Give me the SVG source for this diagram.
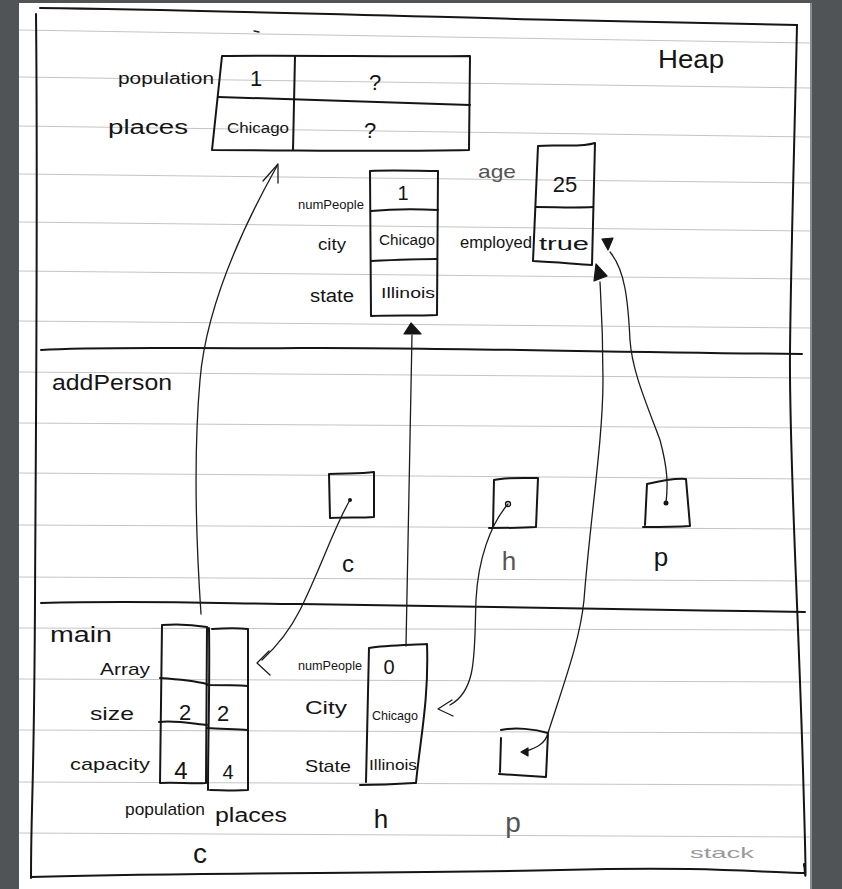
<svg xmlns="http://www.w3.org/2000/svg" width="842" height="889" viewBox="0 0 842 889">
  <defs>
    <style>
      .ink { fill: none; stroke: #151515; stroke-width: 2; stroke-linecap: round; stroke-linejoin: round; }
      .thin { fill: none; stroke: #1c1c1c; stroke-width: 1.3; stroke-linecap: round; stroke-linejoin: round; }
      .rule { stroke: #c4c4c4; stroke-width: 1; }
      .head { fill: #151515; stroke: #151515; stroke-width: 1.2; stroke-linejoin: round; }
      text { font-family: "Liberation Sans", "DejaVu Sans", sans-serif; fill: #151515; }
      .mid { text-anchor: middle; }
      .soft { fill: #555555; }
      .faint { fill: #9a9a9a; }
    </style>
  </defs>

  <!-- desk behind the sheet -->
  <rect x="0" y="0" width="842" height="889" fill="#505457"/>
  <!-- notebook sheet -->
  <rect x="19" y="3" width="793" height="886" fill="#ffffff"/>
  <rect x="810" y="3" width="2" height="886" fill="#8a8d90"/>

  <!-- ruled lines of the sheet -->
  <g id="ruling">
    <line class="rule" x1="19" y1="30" x2="810" y2="43"/>
    <line class="rule" x1="19" y1="77" x2="810" y2="88"/>
    <line class="rule" x1="19" y1="126" x2="810" y2="137"/>
    <line class="rule" x1="19" y1="174" x2="810" y2="183"/>
    <line class="rule" x1="19" y1="222" x2="810" y2="231"/>
    <line class="rule" x1="19" y1="271" x2="810" y2="279"/>
    <line class="rule" x1="19" y1="321" x2="810" y2="328"/>
    <line class="rule" x1="19" y1="372" x2="810" y2="378"/>
    <line class="rule" x1="19" y1="423" x2="810" y2="428"/>
    <line class="rule" x1="19" y1="473" x2="810" y2="479"/>
    <line class="rule" x1="19" y1="525" x2="810" y2="529"/>
    <line class="rule" x1="19" y1="577" x2="810" y2="581"/>
    <line class="rule" x1="19" y1="628" x2="810" y2="630"/>
    <line class="rule" x1="19" y1="679" x2="810" y2="682"/>
    <line class="rule" x1="19" y1="730" x2="810" y2="733"/>
    <line class="rule" x1="19" y1="782" x2="810" y2="785"/>
    <line class="rule" x1="19" y1="833" x2="810" y2="837"/>
  </g>

  <!-- outer frame and the heap / addPerson / main separators -->
  <g id="frame">
    <path class="ink" d="M40 8 C 200 10, 400 16, 560 20 S 760 24, 797 25"/>
    <path class="ink" d="M36 14 C 38 200, 36 400, 35 600 S 31 800, 31 878"/>
    <path class="ink" d="M797 25 C 795 120, 791 250, 790 352 S 798 600, 803 770 S 804 850, 804 866"/>
    <path class="ink" d="M31 877 C 200 872, 400 874, 560 870 S 760 873, 805 873"/>
    <path class="ink" d="M41 350 C 100 346, 200 349, 300 348 S 600 352, 802 354"/>
    <path class="ink" d="M41 603 C 150 600, 240 604, 300 604 S 600 609, 805 612"/>
    <path class="thin" d="M254 31 L 259 32"/>
    <text x="658" y="68" font-size="26" textLength="66" lengthAdjust="spacingAndGlyphs">Heap</text>
    <text x="52" y="390" font-size="22" textLength="120" lengthAdjust="spacingAndGlyphs">addPerson</text>
    <text x="50" y="642" font-size="22" textLength="62" lengthAdjust="spacingAndGlyphs">main</text>
    <text x="690" y="858" font-size="15" class="faint" textLength="64" lengthAdjust="spacingAndGlyphs">stack</text>
  </g>

  <!-- heap: population / places arrays -->
  <g id="heap-arrays">
    <path class="ink" d="M222 56 C 300 55, 400 57, 470 56 L 469 150 C 380 152, 300 150, 212 150 Z"/>
    <path class="ink" d="M218 97 C 300 99, 400 103, 470 105"/>
    <path class="ink" d="M295 56 L 293 150"/>
    <text x="118" y="84" font-size="16" textLength="96" lengthAdjust="spacingAndGlyphs">population</text>
    <text x="108" y="134" font-size="20" textLength="80" lengthAdjust="spacingAndGlyphs">places</text>
    <text x="256" y="86" font-size="22" class="mid">1</text>
    <text x="375" y="90" font-size="22" class="mid">?</text>
    <text x="258" y="133" font-size="14" class="mid" textLength="62" lengthAdjust="spacingAndGlyphs">Chicago</text>
    <text x="370" y="138" font-size="22" class="mid">?</text>
  </g>

  <!-- heap: Location object -->
  <g id="heap-location">
    <path class="ink" d="M370 171 C 390 170, 420 171, 438 171 L 437 315 C 415 316, 392 315, 371 316 Z"/>
    <path class="ink" d="M371 211 C 392 209, 418 209, 438 210"/>
    <path class="ink" d="M371 261 C 392 260, 418 259, 437 259"/>
    <text x="298" y="209" font-size="13" textLength="66" lengthAdjust="spacingAndGlyphs">numPeople</text>
    <text x="318" y="250" font-size="17" textLength="28" lengthAdjust="spacingAndGlyphs">city</text>
    <text x="310" y="302" font-size="18" textLength="44" lengthAdjust="spacingAndGlyphs">state</text>
    <text x="403" y="200" font-size="20" class="mid">1</text>
    <text x="407" y="245" font-size="14" class="mid" textLength="56" lengthAdjust="spacingAndGlyphs">Chicago</text>
    <text x="408" y="298" font-size="15" class="mid" textLength="54" lengthAdjust="spacingAndGlyphs">Illinois</text>
  </g>

  <!-- heap: Person object -->
  <g id="heap-person">
    <path class="ink" d="M538 146 C 555 144, 580 148, 595 143 L 592 265 C 575 264, 555 262, 533 261 Z"/>
    <path class="ink" d="M536 207 C 555 207, 575 208, 593 207"/>
    <text x="478" y="178" font-size="19" class="soft" textLength="38" lengthAdjust="spacingAndGlyphs">age</text>
    <text x="460" y="248" font-size="17" textLength="72" lengthAdjust="spacingAndGlyphs">employed</text>
    <text x="565" y="192" font-size="22" class="mid">25</text>
    <text x="564" y="250" font-size="18" class="mid" textLength="50" lengthAdjust="spacingAndGlyphs">true</text>
  </g>

  <!-- addPerson frame: local references -->
  <g id="addPerson-c">
    <path class="ink" d="M329 474 C 345 473, 360 474, 374 472 L 374 517 C 360 518, 345 517, 330 518 Z"/>
    <circle cx="350" cy="500" r="2" fill="#151515"/>
    <text x="348" y="572" font-size="24" class="mid">c</text>
  </g>
  <g id="addPerson-h">
    <path class="ink" d="M494 480 C 505 477, 525 478, 538 478 L 536 527 C 522 528, 505 528, 489 528 M494 480 L 493 527"/>
    <circle cx="508" cy="504" r="2.5" fill="none" stroke="#151515" stroke-width="1.3"/>
    <text x="509" y="570" font-size="26" class="mid soft">h</text>
  </g>
  <g id="addPerson-p">
    <path class="ink" d="M647 484 C 660 481, 675 478, 686 479 L 690 526 C 675 527, 660 527, 643 527 M647 484 L 645 525"/>
    <circle cx="666" cy="503" r="2.5" fill="#151515"/>
    <text x="661" y="566" font-size="26" class="mid">p</text>
  </g>

  <!-- main frame: c (population / places), h and p -->
  <g id="main-c">
    <path class="ink" d="M162 625 C 175 624, 195 625, 207 627 L 206 783 C 192 784, 175 782, 160 783 Z"/>
    <path class="ink" d="M212 629 C 225 628, 240 628, 248 629 L 248 790 C 235 791, 220 790, 210 790"/>
    <path class="ink" d="M160 678 C 175 679, 195 681, 207 684 M207 685 C 220 685, 235 685, 248 686"/>
    <path class="ink" d="M159 722 C 175 720, 195 724, 207 725 M207 728 C 220 729, 235 729, 248 730"/>
    <path class="ink" d="M209 628 C 210 680, 208 740, 208 790"/>
    <text x="100" y="675" font-size="17" textLength="50" lengthAdjust="spacingAndGlyphs">Array</text>
    <text x="90" y="720" font-size="19" textLength="44" lengthAdjust="spacingAndGlyphs">size</text>
    <text x="70" y="770" font-size="17" textLength="80" lengthAdjust="spacingAndGlyphs">capacity</text>
    <text x="185" y="720" font-size="22" class="mid">2</text>
    <text x="223" y="721" font-size="22" class="mid">2</text>
    <text x="181" y="779" font-size="24" class="mid">4</text>
    <text x="228" y="779" font-size="20" class="mid">4</text>
    <text x="125" y="815" font-size="17" textLength="80" lengthAdjust="spacingAndGlyphs">population</text>
    <text x="215" y="822" font-size="20" textLength="72" lengthAdjust="spacingAndGlyphs">places</text>
    <text x="200" y="863" font-size="28" class="mid">c</text>
  </g>
  <g id="main-h">
    <path class="ink" d="M369 648 C 385 645, 410 645, 427 644 C 429 700, 420 740, 416 783 C 400 784, 385 785, 360 785 M369 648 L 366 782"/>
    <text x="298" y="670" font-size="13" textLength="64" lengthAdjust="spacingAndGlyphs">numPeople</text>
    <text x="305" y="714" font-size="19" textLength="42" lengthAdjust="spacingAndGlyphs">City</text>
    <text x="305" y="772" font-size="17" textLength="46" lengthAdjust="spacingAndGlyphs">State</text>
    <text x="389" y="674" font-size="20" class="mid">0</text>
    <text x="395" y="720" font-size="13" class="mid" textLength="46" lengthAdjust="spacingAndGlyphs">Chicago</text>
    <text x="393" y="770" font-size="14" class="mid" textLength="48" lengthAdjust="spacingAndGlyphs">Illinois</text>
    <text x="381" y="828" font-size="26" class="mid">h</text>
  </g>
  <g id="main-p">
    <path class="ink" d="M501 730 C 515 727, 535 729, 548 733 L 546 777 C 530 776, 515 775, 499 774 M501 738 L 500 772"/>
    <text x="513" y="832" font-size="28" class="mid soft">p</text>
  </g>

  <!-- pointers -->
  <g id="connectors">
    <!-- main c -> heap arrays -->
    <path class="thin" d="M201 614 C 196 540, 193 460, 200 380 C 205 320, 230 250, 277 166"/>
    <path class="thin" d="M263 181 L 278 164 L 278 183"/>
    <!-- addPerson c -> main c -->
    <path class="thin" d="M350 500 C 335 525, 320 570, 300 610 C 290 630, 275 648, 262 660"/>
    <path class="thin" d="M269 651 L 257 663 L 270 675"/>
    <!-- addPerson h -> main h -->
    <path class="thin" d="M508 504 C 490 525, 478 560, 476 600 C 474 650, 478 690, 450 705"/>
    <path class="thin" d="M452 700 L 438 709 L 453 716"/>
    <!-- main h -> heap Location -->
    <path class="thin" d="M406 646 C 407 560, 409 450, 412 335"/>
    <path class="head" d="M411 323 L 404 334 L 421 334 Z"/>
    <!-- main p -> heap Person -->
    <path class="thin" d="M524 752 C 535 748, 545 745, 548 733 C 565 680, 580 640, 584 600 C 590 520, 603 440, 603 380 C 603 330, 601 300, 600 282"/>
    <path class="head" d="M521 752 L 528 748 L 528 756 Z"/>
    <path class="head" d="M596 264 L 594 281 L 607 276 Z"/>
    <!-- addPerson p -> heap Person -->
    <path class="thin" d="M666 503 C 668 485, 668 470, 660 440 C 645 400, 632 370, 630 340 C 628 300, 625 270, 610 252"/>
    <path class="head" d="M602 239 L 613 238 L 608 250 Z"/>
  </g>
</svg>
